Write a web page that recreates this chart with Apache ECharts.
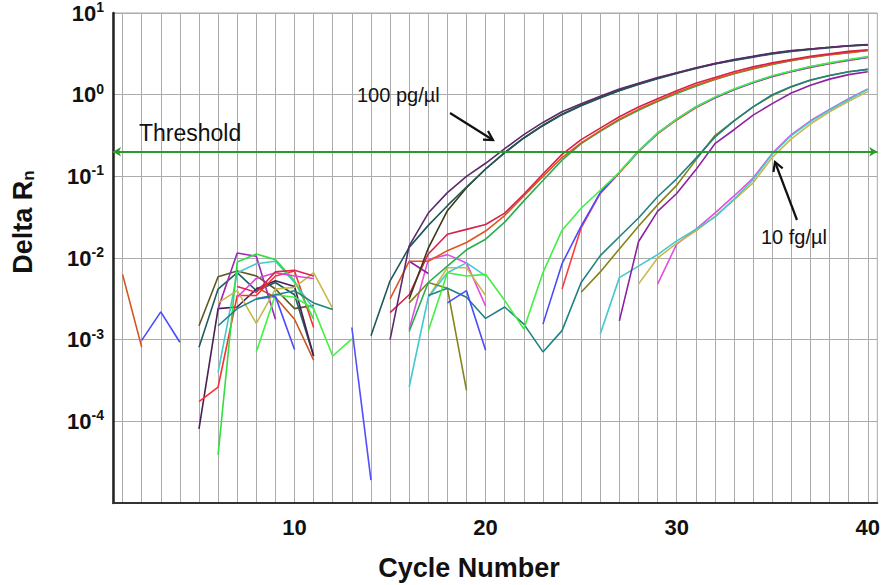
<!DOCTYPE html>
<html><head><meta charset="utf-8">
<script src="https://cdn.jsdelivr.net/npm/echarts@6/dist/echarts.min.js"></script>
<style>html,body{margin:0;padding:0;background:#fff}#c{width:883px;height:585px}</style>
</head><body><div id="c"></div>
<script>
const _ = null;
const gap = n => Array(n).fill(null);
const cycles = [1,2,3,4,5,6,7,8,9,10,11,12,13,14,15,16,17,18,19,20,21,22,23,24,25,26,27,28,29,30,31,32,33,34,35,36,37,38,39,40];
const xTickLabels = [10,20,30,40];
const yTickExponents = [1,0,-1,-2,-3,-4];
const threshold = 0.2;

// 100 pg/ul replicates
const A1 = [...gap(14), 1.0e-3,1.41e-2,3.55e-2,6.31e-2,0.1,0.1445,0.219,0.324,0.457,0.617,0.776,0.955,1.175,1.38,1.62,1.86,2.14,2.40,2.69,2.95,3.24,3.47,3.63,3.80,3.98,4.07];
const A2 = [...gap(13), 1.12e-3,5.25e-3,1.35e-2,2.51e-2,4.37e-2,7.41e-2,0.123,0.195,0.295,0.417,0.569,0.733,0.912,1.12,1.33,1.57,1.82,2.09,2.37,2.63,2.88,3.16,3.39,3.59,3.76,3.94,4.07];
const A3 = [...gap(15), 3.16e-3,1.32e-2,3.8e-2,7.24e-2,0.123,0.195,0.295,0.422,0.575,0.741,0.923,1.135,1.35,1.585,1.84,2.11,2.40,2.66,2.92,3.20,3.43,3.63,3.80,3.98,4.12];
// 10 pg/ul
const B1 = [...gap(14), 2.14e-3,3.55e-3,1.12e-2,1.95e-2,2.24e-2,2.57e-2,3.55e-2,6.03e-2,0.107,0.186,0.282,0.389,0.537,0.708,0.891,1.12,1.38,1.62,1.905,2.19,2.45,2.69,2.95,3.16,3.39,3.55];
const B2 = [...gap(14), 3.16e-3,9.12e-3,9.12e-3,1.23e-2,1.55e-2,2.14e-2,3.31e-2,5.75e-2,0.1,0.17,0.257,0.363,0.501,0.661,0.841,1.06,1.30,1.55,1.82,2.09,2.37,2.63,2.88,3.09,3.27,3.47];
const B3 = [...gap(15), 1.26e-3,5.01e-3,7.94e-3,1.26e-2,1.70e-2,2.75e-2,5.01e-2,8.91e-2,0.158,0.251,0.355,0.490,0.646,0.822,1.035,1.27,1.53,1.80,2.07,2.34,2.60,2.85,3.09,3.27,3.47];
// 1 pg/ul
const C1 = [...gap(16), 1.29e-3,6.61e-3,6.03e-3,6.31e-3,3.02e-3,1.35e-3,6.61e-3,2.19e-2,4.07e-2,6.76e-2,0.112,0.204,0.339,0.501,0.708,0.933,1.175,1.43,1.70,1.95,2.21,2.45,2.69,2.92];
const C2 = [...gap(17), 2.82e-3,3.98e-3,7.41e-4,_,_,1.55e-3,8.51e-3,2.45e-2,6.31e-2,0.112,0.204,0.339,0.501,0.708,0.923,1.16,1.41,1.68,1.93,2.19,2.43,2.66,2.88];
const C3 = [...gap(23), 4.17e-3,2.34e-2,6.17e-2,0.11,0.2,0.331,0.49,0.692,0.912,1.15,1.40,1.66,1.905,2.16,2.40,2.63,2.85];
// 100 fg/ul
const D1 = [...gap(16), 3.47e-3,4.27e-3,3.31e-3,1.82e-3,2.51e-3,1.55e-3,7.08e-4,1.29e-3,5.01e-3,1.07e-2,1.82e-2,3.09e-2,5.62e-2,9.33e-2,0.166,0.302,0.479,0.708,1.0,1.26,1.51,1.72,1.905,2.04];
const D2 = [...gap(15), 2.82e-3,5.01e-3,4.27e-3,2.4e-4,_,_,_,_,_,3.8e-3,6.76e-3,1.29e-2,2.45e-2,4.47e-2,7.76e-2,0.158,0.316,0.479,0.708,0.977,1.245,1.50,1.72,1.905,2.04];
const D3 = [...gap(15), 9.12e-3,6.46e-3,_,_,_,_,_,_,_,_,_,1.70e-3,1.58e-2,3.72e-2,6.17e-2,0.12,0.251,0.372,0.562,0.776,1.047,1.30,1.55,1.76,1.905];
// 10 fg/ul
const E1 = [...gap(15), 2.63e-4,3.31e-3,6.61e-3,8.71e-3,6.03e-3,_,_,_,_,_,1.17e-3,5.75e-3,7.94e-3,1.10e-2,1.62e-2,2.24e-2,3.16e-2,5.25e-2,9.12e-2,0.186,0.316,0.468,0.646,0.871,1.16];
const E2 = [...gap(16), 3.31e-3,7.59e-3,7.59e-3,3.47e-3,_,_,_,_,_,_,_,4.79e-3,1.0e-2,1.51e-2,2.14e-2,3.24e-2,5.13e-2,8.32e-2,0.17,0.288,0.437,0.617,0.832,1.09];
const E3 = [...gap(15), 1.35e-3,9.55e-3,1.10e-2,8.71e-3,2.57e-3,_,_,_,_,_,_,_,_,4.79e-3,1.48e-2,2.24e-2,3.55e-2,5.75e-2,9.55e-2,0.191,0.324,0.479,0.661,0.891,1.175];
// early background noise
const N0 = [6.3e-3,8.1e-4];
const N00 = [_,9.8e-4,2.19e-3,9.3e-4];
const N1 = [...gap(4), 1.48e-3,5.89e-3,6.92e-3,6.03e-3,4.17e-3,2.4e-3,2.63e-3];
const N2 = [...gap(4), 8.1e-4,4.17e-3,6.61e-3,3.98e-3,5.01e-3,3.55e-3,6.3e-4];
const N3 = [...gap(7), 4.37e-3,3.31e-3,1.78e-3,5.62e-4];
const N4 = [...gap(4), 8.1e-5,2.4e-3,2.51e-3,4.17e-3,5.25e-3,4.47e-3,6.31e-4];
const N5 = [...gap(5), 2.4e-3,1.15e-2,1.05e-2,1.78e-3];
const N6 = [...gap(4), 1.74e-4,2.63e-4,3.47e-3,3.47e-3,6.03e-3,6.92e-3,1.41e-3];
const N7 = [...gap(5), 3.98e-4,6.61e-3,8.51e-3,9.12e-3,5.01e-3,2.4e-3];
const N8 = [...gap(5), 3.89e-5,8.91e-3,1.12e-2,9.55e-3,5.25e-3,1.78e-3];
const N9 = [...gap(7), 7.08e-4,3.55e-3,3.31e-3,2.4e-3,6.31e-4,1.02e-3];
const N10 = [...gap(7), 3.16e-3,3.39e-3,7.59e-4];
const N11 = [...gap(5), 2.82e-3,3.98e-3,1.58e-3,4.17e-3,4.37e-3,6.61e-3,2.4e-3];
const N12 = [...gap(5), 1.48e-3,2.4e-3,3.16e-3,3.55e-3,3.98e-3,2.82e-3,2.34e-3];
const N13 = [...gap(6), 3.31e-3,5.62e-3,6.61e-3,6.03e-3,5.62e-3];
const N14 = [...gap(6), 4.47e-3,3.8e-3,6.76e-3,7.08e-3,6.03e-3];
const N15 = [...gap(12), 1.41e-3,1.91e-5];

const wells = [N0,N00,N1,N2,N3,N4,N5,N6,N7,N8,N9,N10,N11,N12,N13,N14,N15,
  E3,E2,E1,D3,D2,D1,C3,C2,C1,B3,B2,B1,A3,A2,A1];
const wellColors = ['#d2561c','#4a4aff','#5a5a1e','#1f5e5e','#c8561e','#4a1e52','#9a2ab2','#ff2e2e','#44c8cc','#33dd44','#44f044','#4a4aff','#c8b84a','#1f8484','#e044e0','#e0244e','#5050ff',
  '#e24ee2','#c9b84c','#44c8d0','#8c22a0','#848418','#1f8282','#ff3c3c','#4a4aff','#44ee44','#24b04c','#e0561e','#d8204a','#3b3a1a','#1f5858','#5a2a6c'];

const FONT = '"Liberation Sans", Arial, sans-serif';
const series = wells.map((w, k) => ({
  type: 'line', silent: true, symbol: 'none', connectNulls: false,
  data: cycles.map((c, i) => [c, w[i] === undefined ? null : w[i]]),
  lineStyle: { color: wellColors[k], width: 1.6 },
  itemStyle: { color: wellColors[k] }, z: 3
}));
series.push({
  type: 'line', silent: true, symbol: 'none', data: [], z: 5,
  markLine: {
    silent: true, symbol: ['arrow', 'arrow'], symbolSize: [7, 8],
    label: { show: false },
    lineStyle: { color: '#2a9a2a', width: 2, type: 'solid' },
    data: [[{ coord: [0.5, threshold] }, { coord: [40.5, threshold] }]]
  }
});

const chart = echarts.init(document.getElementById('c'), null, { renderer: 'svg' });
chart.setOption({
  animation: false,
  backgroundColor: '#fff',
  grid: { left: 113, top: 11, width: 767, height: 492, show: true, borderColor: '#a8a8a8', borderWidth: 1 },
  xAxis: {
    type: 'value', min: 0.5, max: 40.5, interval: 0.5,
    axisLine: { show: true, lineStyle: { color: '#333', width: 2 } },
    axisTick: { show: false },
    splitLine: { show: true, lineStyle: { color: ['rgba(0,0,0,0)', '#ababab'], width: 1 } },
    axisLabel: {
      margin: 13, fontSize: 22, fontWeight: 'bold', color: '#111', fontFamily: FONT,
      formatter: v => xTickLabels.includes(v) ? String(v) : ''
    }
  },
  yAxis: {
    type: 'log', logBase: 10, min: 1e-5, max: 10,
    axisLine: { show: true, lineStyle: { color: '#222', width: 2.5 } },
    axisTick: { show: false },
    splitLine: { show: true, lineStyle: { color: '#ababab', width: 1 } },
    axisLabel: {
      margin: 9, fontFamily: FONT,
      formatter: v => {
        const e = Math.round(Math.log10(v));
        return yTickExponents.includes(e) ? '{b|10}{s|' + e + '}' : '';
      },
      rich: {
        b: { fontSize: 22, fontWeight: 'bold', color: '#111', fontFamily: FONT, lineHeight: 26 },
        s: { fontSize: 14, fontWeight: 'bold', color: '#111', fontFamily: FONT, lineHeight: 15, verticalAlign: 'top' }
      }
    }
  },
  graphic: [
    { type: 'text', x: 23, y: 222, rotation: Math.PI / 2, z: 10,
      style: { text: 'Delta R{n|n}', fontSize: 27, fontWeight: 'bold', fontFamily: FONT, fill: '#111',
        align: 'center', verticalAlign: 'middle',
        rich: { n: { fontSize: 17, fontWeight: 'bold', fontFamily: FONT, fill: '#111', verticalAlign: 'bottom', lineHeight: 17 } } } },
    { type: 'text', x: 469, y: 568, z: 10,
      style: { text: 'Cycle Number', fontSize: 27, fontWeight: 'bold', fontFamily: FONT, fill: '#111', align: 'center', verticalAlign: 'middle' } },
    { type: 'text', x: 139, y: 133, z: 10,
      style: { text: 'Threshold', fontSize: 23, fontFamily: FONT, fill: '#111', align: 'left', verticalAlign: 'middle' } },
    { type: 'text', x: 357, y: 95, z: 10,
      style: { text: '100 pg/µl', fontSize: 20, fontFamily: FONT, fill: '#111', align: 'left', verticalAlign: 'middle' } },
    { type: 'text', x: 761, y: 237, z: 10,
      style: { text: '10 fg/µl', fontSize: 20, fontFamily: FONT, fill: '#111', align: 'left', verticalAlign: 'middle' } },
    { type: 'polyline', z: 10, shape: { points: [[450, 113], [493, 140]] }, style: { stroke: '#111', lineWidth: 2.2, fill: null } },
    { type: 'polyline', z: 10, shape: { points: [[488, 131], [493, 140], [483, 139.6]] }, style: { stroke: '#111', lineWidth: 2.2, fill: null } },
    { type: 'polyline', z: 10, shape: { points: [[797, 220], [775, 162]] }, style: { stroke: '#111', lineWidth: 2.2, fill: null } },
    { type: 'polyline', z: 10, shape: { points: [[773.4, 172], [775, 162], [782.7, 168.3]] }, style: { stroke: '#111', lineWidth: 2.2, fill: null } }
  ],
  series: series
});
</script>
</body></html>
